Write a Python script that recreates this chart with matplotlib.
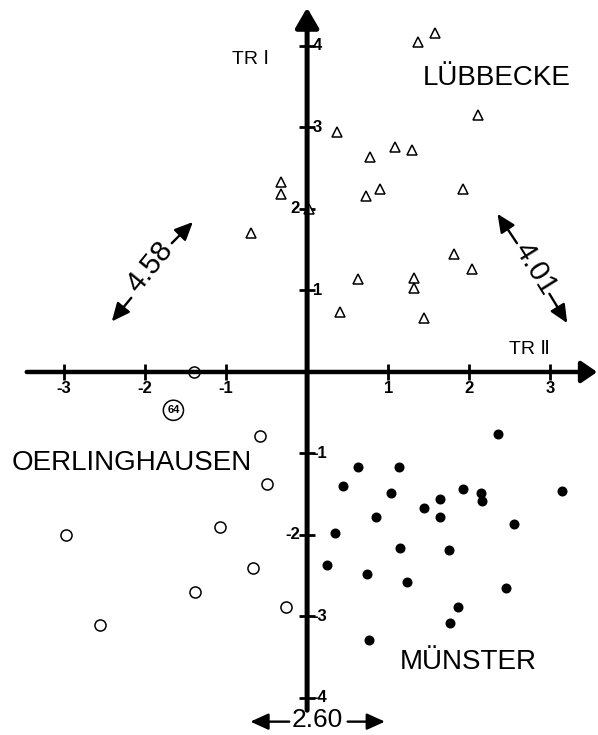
import numpy as np
import matplotlib.pyplot as plt

# Lübbecke (open triangles)
lub_x = [1.37, 1.58, 2.11, 0.37, 0.78, 1.09, 1.29, -0.32, -0.32, 0.73, 0.90,
         1.92, 0.02, -0.69, 0.63, 1.32, 1.32, 0.41, 1.44, 1.81, 2.04]
lub_y = [4.05, 4.16, 3.15, 2.94, 2.64, 2.76, 2.72, 2.33, 2.18, 2.16, 2.25,
         2.24, 2.00, 1.71, 1.14, 1.15, 1.03, 0.73, 0.66, 1.45, 1.26]

# Oerlinghausen (open circles)
oer_x = [-1.39, -0.58, -0.49, -1.08, -2.97, -0.67, -1.38, -0.26, -2.56]
oer_y = [0.00, -0.78, -1.38, -1.90, -2.00, -2.40, -2.70, -2.88, -3.10]

# Münster (filled dots)
mun_x = [2.35, 0.63, 1.14, 0.44, 1.04, 1.93, 2.14, 2.16, 3.15, 1.64, 1.44, 1.64,
         0.85, 2.55, 0.35, 1.15, 1.75, 0.25, 0.74, 1.23, 2.46, 1.86, 1.76, 0.76]
mun_y = [-0.76, -1.17, -1.17, -1.40, -1.48, -1.44, -1.48, -1.58, -1.46, -1.56, -1.67, -1.78,
         -1.78, -1.87, -1.97, -2.16, -2.18, -2.37, -2.48, -2.58, -2.65, -2.88, -3.08, -3.29]

x_ticks = [-3, -2, -1, 1, 2, 3]
y_ticks = [-4, -3, -2, -1, 1, 2, 3, 4]
y_label_left = [2, -2]   # these tick labels sit left of the axis

fig = plt.figure(figsize=(5.98, 7.35), dpi=100)
ax = fig.add_axes([0, 0, 1, 1])
ax.set_xlim(-3.79, 3.59)
ax.set_ylim(-4.454, 4.564)
ax.axis("off")

fam = ["Liberation Sans", "DejaVu Sans"]

# axes with arrows
ax.annotate("", xy=(3.58, 0), xytext=(-3.46, 0),
            arrowprops=dict(arrowstyle="-|>,head_length=0.95,head_width=0.65", lw=3.2,
                            color="k", shrinkA=0, shrinkB=0, mutation_scale=10))
ax.annotate("", xy=(0, 4.47), xytext=(0, -4.15),
            arrowprops=dict(arrowstyle="-|>,head_length=1.2,head_width=0.7", lw=3.6,
                            color="k", shrinkA=0, shrinkB=0, mutation_scale=10))

# ticks
ax.plot(x_ticks, np.zeros(len(x_ticks)), "|", color="k", ms=11, mew=2)
ax.plot(np.zeros(len(y_ticks)), y_ticks, "_", color="k", ms=11, mew=2)
for t in x_ticks:
    ax.text(t, -0.2, "-%d" % -t if t < 0 else str(t), ha="center", va="center",
            fontsize=12, fontweight="bold", family=fam)
for t in y_ticks:
    lab = "-%d" % -t if t < 0 else str(t)
    if t in y_label_left:
        ax.text(-0.09, t, lab, ha="right", va="center", fontsize=12,
                fontweight="bold", family=fam)
    else:
        ax.text(0.07, t, lab, ha="left", va="center", fontsize=12,
                fontweight="bold", family=fam)

# points
ax.plot(lub_x, lub_y, "^", ms=7, mfc="white", mec="k", mew=1.1, ls="none")
ax.plot(oer_x, oer_y, "o", ms=8, mfc="white", mec="k", mew=1.1, ls="none")
ax.plot(mun_x, mun_y, "o", ms=6.2, mfc="k", mec="k", ls="none")

ax.text(-1.65, -0.47, "64", ha="center", va="center", fontsize=8, fontweight="bold",
        family=fam, bbox=dict(boxstyle="circle,pad=0.35", fc="white", ec="k", lw=1.1))

# group names and axis titles
ax.text(2.34, 3.61, "LÜBBECKE", ha="center", va="center", fontsize=20, family=fam)
ax.text(-2.16, -1.12, "OERLINGHAUSEN", ha="center", va="center", fontsize=20, family=fam)
ax.text(1.99, -3.56, "MÜNSTER", ha="center", va="center", fontsize=20, family=fam)
ax.text(-0.70, 3.83, "TR Ⅰ", ha="center", va="center", fontsize=14, family=fam)
ax.text(2.75, 0.28, "TR Ⅱ", ha="center", va="center", fontsize=14, family=fam)

# distance arrows
dim_arrow = dict(arrowstyle="-|>,head_length=0.55,head_width=0.25", lw=1.7,
                 color="k", shrinkA=0, shrinkB=0, mutation_scale=20)
dims = [
    ("4.58", (-1.94, 1.29), 51, 21,
     [((-2.17, 0.91), (-2.41, 0.62)), ((-1.67, 1.58), (-1.41, 1.84))]),
    ("4.01", (2.81, 1.27), -58, 21,
     [((2.59, 1.58), (2.35, 1.94)), ((2.99, 0.96), (3.21, 0.60))]),
    ("2.60", (0.12, -4.27), 0, 19,
     [((-0.22, -4.29), (-0.70, -4.29)), ((0.50, -4.29), (0.96, -4.29))]),
]
for lab, pos, rot, size, segs in dims:
    ax.text(pos[0], pos[1], lab, ha="center", va="center", fontsize=size, rotation=rot,
            rotation_mode="anchor", family=fam)
    for start, tip in segs:
        ax.annotate("", xy=tip, xytext=start, arrowprops=dim_arrow)

fig.savefig("out.png", dpi=100, facecolor="white")
